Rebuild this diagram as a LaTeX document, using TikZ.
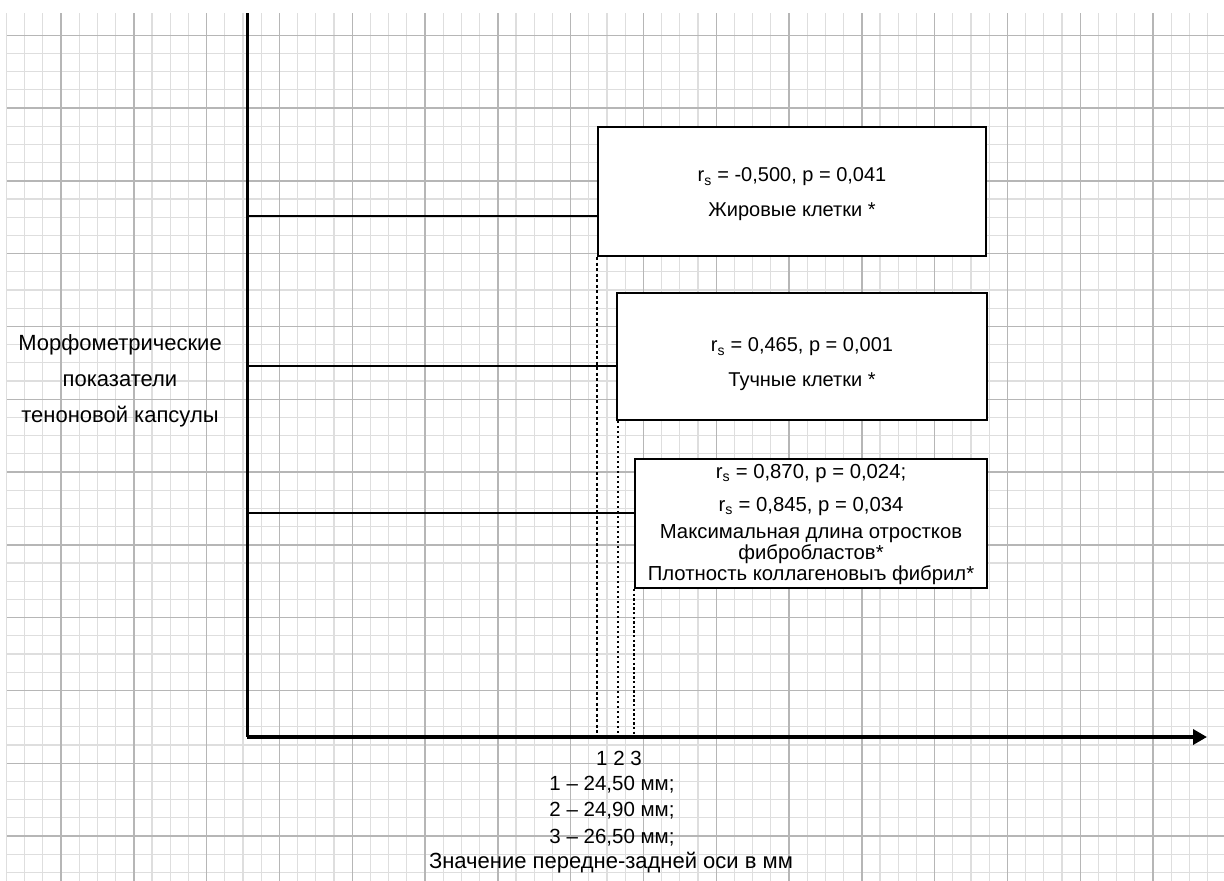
\documentclass[tikz,border=0pt]{standalone}
\usepackage{fontspec}
\setmainfont{Liberation Sans}
\usetikzlibrary{arrows.meta,positioning}
\definecolor{gridminor}{RGB}{222,222,222}
\definecolor{gridmajor}{RGB}{182,182,182}

\begin{document}
\begin{tikzpicture}[x=1pt,y=-1pt,
    box/.style={rectangle, draw=black, line width=2pt, fill=white, anchor=north west},
    boxtext/.style={align=center, inner sep=0pt, font=\fontsize{20}{35}\selectfont},
    link/.style={line width=2.4pt},
    axis/.style={line width=3pt},
    guidea/.style={line width=1.8pt, dash pattern=on 3pt off 2.5pt},
    guideb/.style={line width=1.8pt, dash pattern=on 1.6pt off 3.4pt},
    guidec/.style={line width=2pt, dash pattern=on 2.4pt off 2.2pt},
    lbl/.style={font=\fontsize{20.5}{24}\selectfont, inner sep=0pt, anchor=base}
]
\useasboundingbox (0,0) rectangle (1224,881);

% grid paper
\foreach \i [evaluate=\i as \gx using 6.4+18.2*\i] in {0,...,66}
  \draw[gridminor, line width=1.2pt] (\gx,13) -- (\gx,881);
\foreach \j [evaluate=\j as \gy using 35.2+18.2*\j] in {0,...,46}
  \draw[gridminor, line width=1.2pt] (7,\gy) -- (1224,\gy);
\foreach \i [evaluate=\i as \gx using 6.4+18.2*\i] in {3,7,...,63}
  \draw[gridmajor, line width=1.4pt] (\gx,13) -- (\gx,881);
\foreach \j [evaluate=\j as \gy using 35.2+18.2*\j] in {0,4,...,44}
  \draw[gridmajor, line width=1.4pt] (7,\gy) -- (1224,\gy);

% axes
\coordinate (o) at (247,737);
\coordinate (ytop) at (247,13);
\coordinate (xend) at (1207,737);

% boxes
\node[box, minimum width=388pt, minimum height=129pt] (b1) at (597,126) {};
\node[boxtext] (t1) at ([yshift=-3pt]b1.center)
  {r\textsubscript{s} = -0,500, p = 0,041\\ Жировые клетки *};
\node[box, minimum width=370pt, minimum height=127pt] (b2) at (616,292) {};
\node[boxtext] (t2) at ([yshift=-8pt]b2.center)
  {r\textsubscript{s} = 0,465, p = 0,001\\ Тучные клетки *};
\node[box, minimum width=352pt, minimum height=129pt] (b3) at (634,458) {};
\node[boxtext, font=\fontsize{20.3}{21}\selectfont] (t3) at ([yshift=-1pt]b3.center)
  {r\textsubscript{s} = 0,870, p = 0,024;\\[12pt] r\textsubscript{s} = 0,845, p = 0,034\\[6pt]
   Максимальная длина отростков\\ фибробластов*\\ Плотность коллагеновыъ фибрил*};

% connectors from the axis
\coordinate (a1) at (247,216);
\coordinate (a2) at (247,366);
\coordinate (a3) at (247,513);
\draw[link] (a1) -- (a1 -| b1.west);
\draw[link] (a2) -- (a2 -| b2.west);
\draw[link] (a3) -- (a3 -| b3.west);

% guides down to the x axis
\draw[guidea] (b1.south west) -- (b1.south west |- o);
\draw[guideb] ([xshift=2pt]b2.south west) -- ([xshift=2pt]b2.south west |- o);
\draw[guidec] (b3.south west) -- (b3.south west |- o);

\draw[axis] (ytop) -- (o);
\draw[axis, line width=3.5pt, -{Triangle[length=14pt,width=15pt]}] (o) -- (xend);

% labels
\node[font=\fontsize{22}{36}\selectfont, align=center, inner sep=0pt] (ylab) at (120,381)
  {Морфометрические\\ показатели\\ теноновой капсулы};
\node[lbl] (ticks) at (619,765) {1 2 3};
\node[lbl] (v1) at (612,790) {1 – 24,50 мм;};
\node[lbl] (v2) at (612,816) {2 – 24,90 мм;};
\node[lbl] (v3) at (612,843) {3 – 26,50 мм;};
\node[lbl, font=\fontsize{22}{24}\selectfont] (xlab) at (611,868) {Значение передне-задней оси в мм};
\end{tikzpicture}
\end{document}
